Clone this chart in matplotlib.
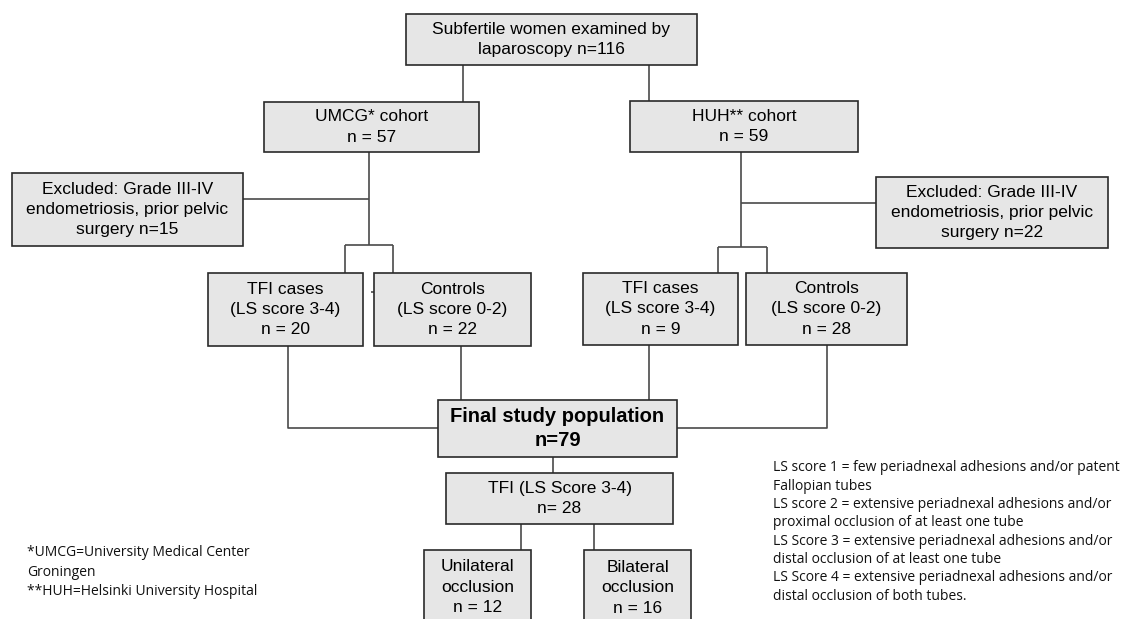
import matplotlib.pyplot as plt
from matplotlib.patches import Rectangle

# box texts
top_label = "Subfertile women examined by\nlaparoscopy n=116"
cohort_labels = ["UMCG* cohort\nn = 57", "HUH** cohort\nn = 59"]
excluded_n = [15, 22]
case_n = [20, 9]
control_n = [22, 28]
final_label = "Final study population\nn=79"
tfi_label = "TFI (LS Score 3-4)\nn= 28"
occlusion_labels = ["Unilateral", "Bilateral"]
occlusion_n = [12, 16]

footnote = "*UMCG=University Medical Center\nGroningen\n**HUH=Helsinki University Hospital"
ls_notes = [
    "LS score 1 = few periadnexal adhesions and/or patent",
    "Fallopian tubes",
    "LS score 2 = extensive periadnexal adhesions and/or",
    "proximal occlusion of at least one tube",
    "LS Score 3 = extensive periadnexal adhesions and/or",
    "distal occlusion of at least one tube",
    "LS Score 4 = extensive periadnexal adhesions and/or",
    "distal occlusion of both tubes.",
]

W, H = 1125, 619
fig = plt.figure(figsize=(W / 100, H / 100), dpi=100)
ax = fig.add_axes([0, 0, 1, 1])
ax.set_xlim(0, W)
ax.set_ylim(H, 0)
ax.axis("off")

FONT = "Liberation Sans"
FILL = "#e6e6e6"
EDGE = "#2a2a2a"
LINE = "#4a4a4a"


def box(x0, y0, x1, y1, text, size=12.5, bold=False, ty=None, ls=1.45):
    ax.add_patch(Rectangle((x0, y0), x1 - x0, y1 - y0, facecolor=FILL,
                           edgecolor=EDGE, lw=1.2, zorder=2))
    if ty is None:
        ty = (y0 + y1) / 2
    ax.text((x0 + x1) / 2, ty, text, ha="center", va="center",
            fontsize=size, family=FONT, linespacing=ls,
            fontweight="bold" if bold else "normal", zorder=3)


def line(xs, ys):
    ax.plot(xs, ys, color=LINE, lw=1.2, zorder=1, solid_capstyle="butt")


# top
box(406, 14, 697, 65, top_label)
line([463, 463], [65, 102])
line([649, 649], [65, 101])

# cohorts
box(264, 102, 479, 152, cohort_labels[0])
box(630, 101, 858, 152, cohort_labels[1])

# UMCG side
line([369, 369], [152, 245])
line([243, 369], [199, 199])
box(12, 173, 243, 246, "Excluded: Grade III-IV\nendometriosis, prior pelvic\nsurgery n=%d" % excluded_n[0])
line([345, 393], [245, 245])
line([345, 345], [245, 273])
line([393, 393], [245, 273])
line([371, 374], [292, 292])
box(208, 273, 363, 346, "TFI cases\n(LS score 3-4)\nn = %d" % case_n[0])
box(374, 273, 531, 346, "Controls\n(LS score 0-2)\nn = %d" % control_n[0])

# HUH side
line([741, 741], [152, 247])
line([741, 876], [203, 203])
box(876, 177, 1108, 248, "Excluded: Grade III-IV\nendometriosis, prior pelvic\nsurgery n=%d" % excluded_n[1])
line([718, 767], [247, 247])
line([718, 718], [247, 273])
line([767, 767], [247, 273])
box(583, 273, 738, 345, "TFI cases\n(LS score 3-4)\nn = %d" % case_n[1])
box(746, 273, 907, 345, "Controls\n(LS score 0-2)\nn = %d" % control_n[1])

# into final population
line([288, 288, 438], [346, 428, 428])
line([461, 461], [346, 400])
line([649, 649], [345, 400])
line([677, 827, 827], [428, 428, 345])
box(438, 400, 677, 457, final_label, size=14.5, bold=True, ls=1.35)

# TFI split
line([553, 553], [457, 473])
box(446, 473, 673, 524, tfi_label)
line([521, 521], [524, 550])
line([594, 594], [524, 550])
box(424, 550, 531, 640, "%s\nocclusion\nn = %d" % (occlusion_labels[0], occlusion_n[0]), ty=587)
box(584, 550, 691, 640, "%s\nocclusion\nn = %d" % (occlusion_labels[1], occlusion_n[1]), ty=588)

# notes
ax.text(27, 572, footnote, ha="left", va="center", fontsize=10,
        family="Open Sans", linespacing=1.42, color="#111111")
ax.text(773, 532, "\n".join(ls_notes), ha="left", va="center", fontsize=10,
        family="Open Sans", linespacing=1.3, color="#111111")

fig.savefig("out.png", dpi=100)
